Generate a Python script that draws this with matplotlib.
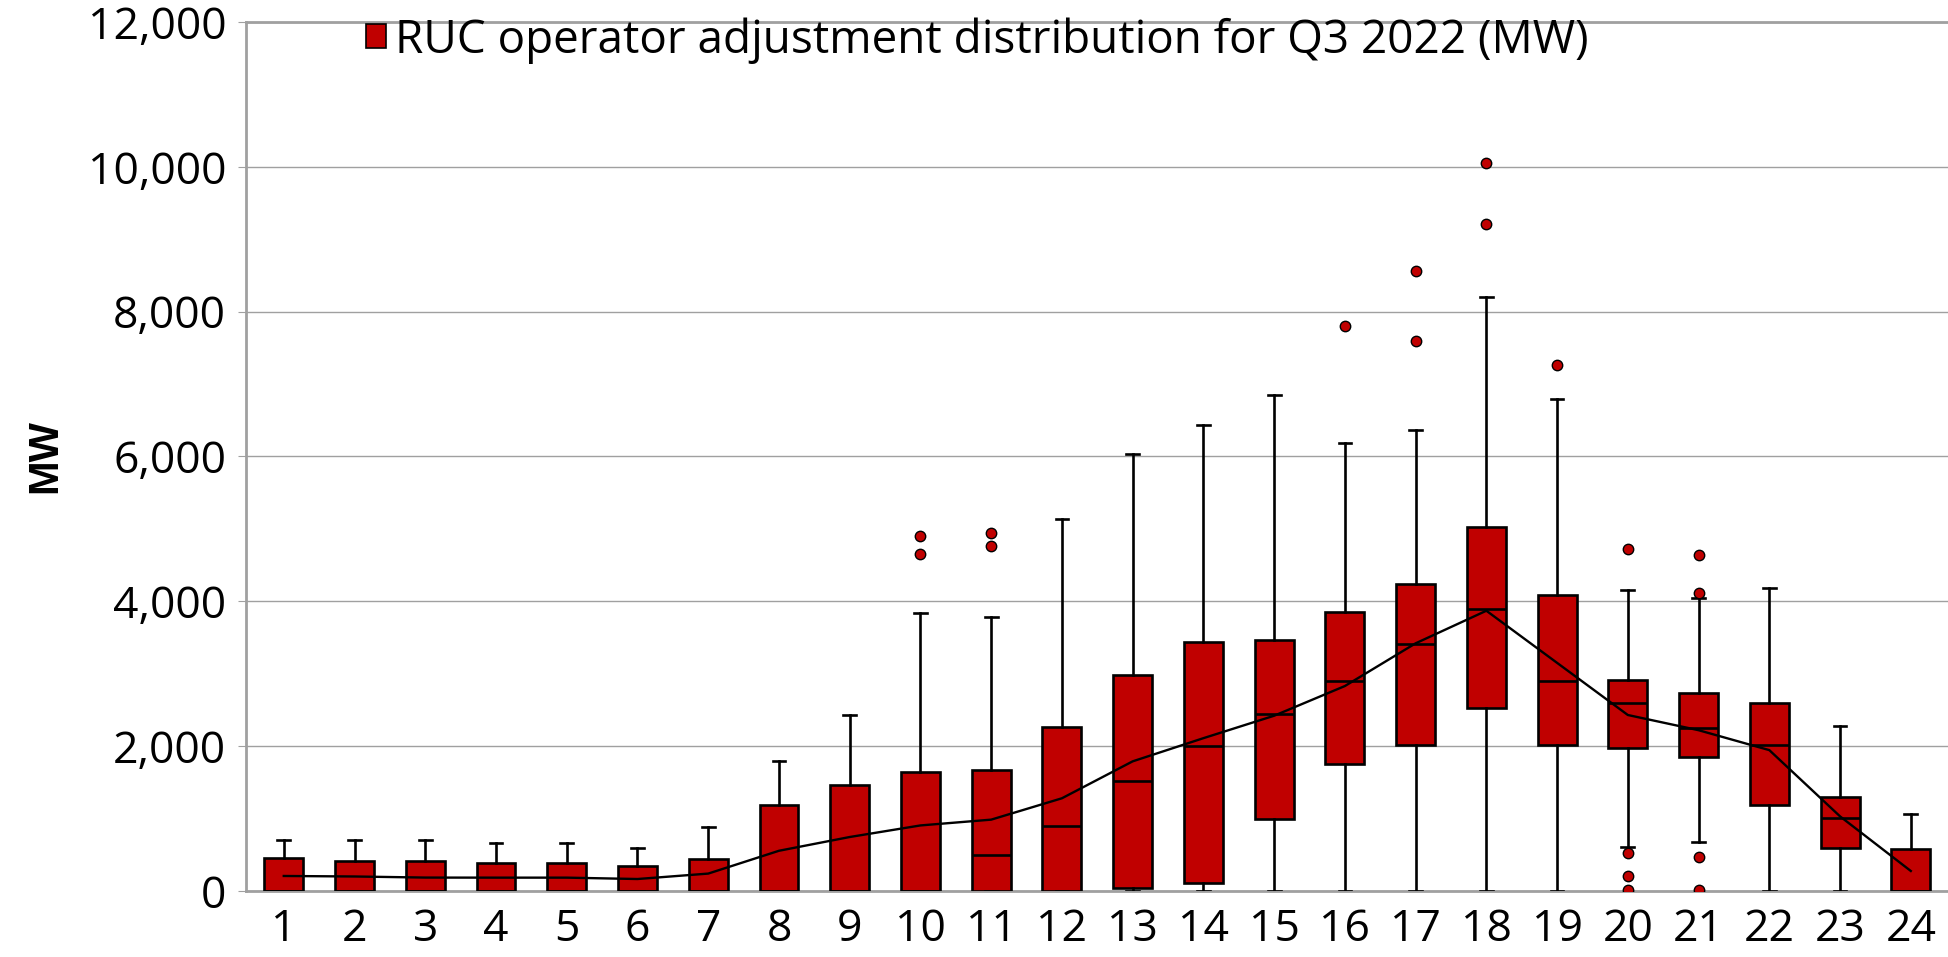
import matplotlib
matplotlib.use('Agg')
import matplotlib.pyplot as plt
from matplotlib.patches import Patch
from matplotlib.ticker import FuncFormatter

# hour-ending labels
hours = list(range(1, 25))

# box stats (MW)
q1 = [0, 0, 0, 0, 0, 0, 0, 0, 0, 0, 0, 0, 40, 110, 1000, 1750, 2010, 2520, 2010, 1980, 1850, 1190, 600, 0]
med = [0, 0, 0, 0, 0, 0, 0, 0, 0, 0, 500, 900, 1520, 2000, 2440, 2900, 3415, 3900, 2900, 2600, 2245, 2020, 1010, 0]
q3 = [450, 415, 415, 390, 390, 345, 448, 1185, 1465, 1645, 1668, 2262, 2980, 3440, 3467, 3852, 4240, 5030, 4085, 2912, 2728, 2600, 1293, 575]
whis_hi = [700, 700, 700, 667, 667, 596, 878, 1795, 2425, 3840, 3790, 5140, 6035, 6436, 6853, 6190, 6361, 8200, 6790, 4154, 4039, 4186, 2277, 1063]
whis_lo = [0, 0, 0, 0, 0, 0, 0, 0, 0, 0, 0, 0, 0, 0, 0, 0, 0, 0, 0, 603, 681, 0, 0, 0]
outliers = [[], [], [], [], [], [], [], [], [], [4900, 4660], [4950, 4770], [], [], [], [],
            [7800], [8560, 7590], [10050, 9210], [7270], [4720, 520, 200, 20], [4646, 4108, 474, 14],
            [], [], []]
avg = [207, 200, 185, 184, 184, 165, 240, 555, 745, 905, 985, 1280, 1790, 2110, 2420, 2830,
       3420, 3870, 3150, 2430, 2220, 1945, 1030, 276]

legend_label = 'RUC operator adjustment distribution for Q3 2022 (MW)'
red = '#C00000'
grid_col = '#A0A0A0'

plt.rcParams['font.family'] = ['Open Sans', 'DejaVu Sans']

fig = plt.figure(figsize=(19.49, 9.57), dpi=100)
ax = fig.add_axes([0.126, 0.069, 0.874, 0.908])

stats = []
for i in range(len(hours)):
    stats.append(dict(med=med[i], q1=q1[i], q3=q3[i], whislo=whis_lo[i], whishi=whis_hi[i],
                      fliers=outliers[i], label=str(hours[i])))

lw = 1.9
ax.bxp(stats, positions=hours, widths=0.55, patch_artist=True, showcaps=True,
       boxprops=dict(facecolor=red, edgecolor='black', linewidth=lw),
       medianprops=dict(color='black', linewidth=lw),
       whiskerprops=dict(color='black', linewidth=lw),
       capprops=dict(color='black', linewidth=lw),
       capwidths=0.18,
       flierprops=dict(marker='o', markersize=7.5, markerfacecolor=red, markeredgecolor='black',
                       markeredgewidth=1.0, linestyle='none'),
       zorder=3)

ax.plot(hours, avg, color='black', linewidth=1.7, zorder=4)

ax.set_xlim(0.46, 24.54)
ax.set_ylim(0, 12000)
ax.set_yticks(range(0, 12001, 2000))
ax.yaxis.set_major_formatter(FuncFormatter(lambda v, p: f'{int(v):,}'))
ax.grid(axis='y', color=grid_col, linewidth=1.0, zorder=0)
ax.set_axisbelow(True)

for s in ['left', 'top', 'bottom']:
    ax.spines[s].set_color(grid_col)
    ax.spines[s].set_linewidth(2)
ax.spines['right'].set_visible(False)

ax.tick_params(axis='y', labelsize=32, length=6, color=grid_col, pad=8)
ax.tick_params(axis='x', labelsize=32, length=0, pad=12)

ax.set_ylabel('MW', fontsize=30, fontweight='bold', family='Liberation Sans', labelpad=16)

h = Patch(facecolor=red, edgecolor='black', linewidth=1.2)
ax.legend(handles=[h], labels=[legend_label], loc='upper left', bbox_to_anchor=(0.188, 0.982),
          bbox_transform=fig.transFigure, frameon=False, borderpad=0, borderaxespad=0,
          handlelength=0.42, handleheight=0.42, handletextpad=0.2,
          prop=dict(family='Open Sans', size=33))

fig.savefig('out.png', dpi=100)
